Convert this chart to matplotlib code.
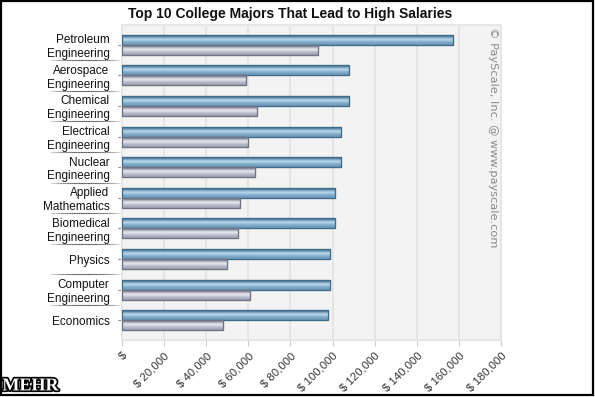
import numpy as np
import matplotlib.pyplot as plt
import matplotlib.patheffects as pe
from matplotlib.patches import Rectangle
from matplotlib.ticker import FuncFormatter

# --- data ---
majors = ['Petroleum\nEngineering', 'Aerospace\nEngineering', 'Chemical\nEngineering',
          'Electrical\nEngineering', 'Nuclear\nEngineering', 'Applied\nMathematics',
          'Biomedical\nEngineering', 'Physics', 'Computer\nEngineering', 'Economics']
mid_career = [157000, 108000, 108000, 104000, 104000, 101000, 101000, 99000, 99000, 98000]
starting = [93000, 59000, 64000, 60000, 63000, 56000, 55000, 50000, 61000, 48000]

plt.rcParams['font.family'] = ['Liberation Sans', 'DejaVu Sans']

fig = plt.figure(figsize=(5.95, 3.97), dpi=100)
ax = fig.add_axes([0.205, 0.1436, 0.637, 0.7934])

# plot background
ax.set_facecolor('#f3f3f3')
ax.set_xticks(np.arange(0, 180001, 20000))
ax.xaxis.set_major_formatter(FuncFormatter(lambda v, p: '$' if v == 0 else '$ {:,.0f}'.format(v)))
ax.grid(axis='x', color='#e2e2e2', linewidth=1.2, zorder=0)
ax.set_axisbelow(True)
for s in ax.spines.values():
    s.set_color('#e6e6e6')
    s.set_linewidth(1.5)

h = 0.326
y = np.arange(len(majors))
blue = ax.barh(y - h / 2, mid_career, height=h, color='#8bb4d0', edgecolor='#3f6b8a', linewidth=0.8, zorder=3)
gray = ax.barh(y + h / 2, starting, height=h, color='#c4c7d3', edgecolor='#6f7384', linewidth=0.8, zorder=3)


def shade(bars, stops):
    grad = np.array(stops, dtype=float).reshape(-1, 1, 3) / 255.0
    for b in bars:
        x0, y0 = b.get_x(), b.get_y()
        ax.imshow(grad, extent=(x0, x0 + b.get_width(), y0 + b.get_height(), y0),
                  aspect='auto', interpolation='bicubic', zorder=3.5)
        ax.add_patch(Rectangle((x0, y0), b.get_width(), b.get_height(), fill=False,
                               edgecolor=b.get_edgecolor(), linewidth=0.9, zorder=4))


shade(blue, [(70, 110, 140), (120, 165, 196), (200, 225, 240), (150, 190, 215),
             (125, 168, 198), (110, 152, 184)])
shade(gray, [(120, 124, 140), (175, 178, 192), (240, 241, 246), (205, 207, 218),
             (180, 183, 198), (160, 163, 180)])
ax.set_xlim(0, 180000)
ax.set_ylim(9.64, -0.64)

ax.set_yticks(y)
ax.set_yticklabels(majors, fontsize=8.5, color='#111111', linespacing=1.2)
ax.tick_params(axis='y', length=3, color='#888888', pad=6)
ax.tick_params(axis='x', length=4, color='#cccccc', labelsize=8.2, labelcolor='#333333')
plt.setp(ax.get_xticklabels(), rotation=45, ha='right', rotation_mode='anchor')

# separators between categories on the left
n = 30
xs = np.linspace(-0.19, -0.005, n + 1)
for i in range(len(majors) - 1):
    yy = i + 0.5
    for k in range(n):
        t = (k + 0.5) / n
        a = 0.1 + 0.75 * np.sin(np.pi * t) ** 0.7
        ax.plot(xs[k:k + 2] * 180000, [yy, yy], color='#444444', alpha=a, lw=0.8,
                clip_on=False, solid_capstyle='butt', zorder=1)

fig.text(0.487, 0.965, 'Top 10 College Majors That Lead to High Salaries',
         ha='center', va='center', fontsize=10, fontweight='bold', color='#111111')

fig.text(0.829, 0.932, '\u00a9 PayScale, Inc. @ www.payscale.com', rotation=270,
         ha='center', va='top', fontsize=8.2, color='#8a8a8a', family='DejaVu Sans')

fig.text(0.004, 0.028, 'MEHR', ha='left', va='center', fontsize=13, fontweight='bold',
         family=['Liberation Serif', 'DejaVu Serif'], color='white',
         path_effects=[pe.withStroke(linewidth=2.5, foreground='black')])

# frame around the whole picture
fig.patches.append(Rectangle((0.001, 0.004), 0.996, 0.993, transform=fig.transFigure,
                             fill=False, edgecolor='black', linewidth=1.6))

fig.savefig('out.png', dpi=100)
